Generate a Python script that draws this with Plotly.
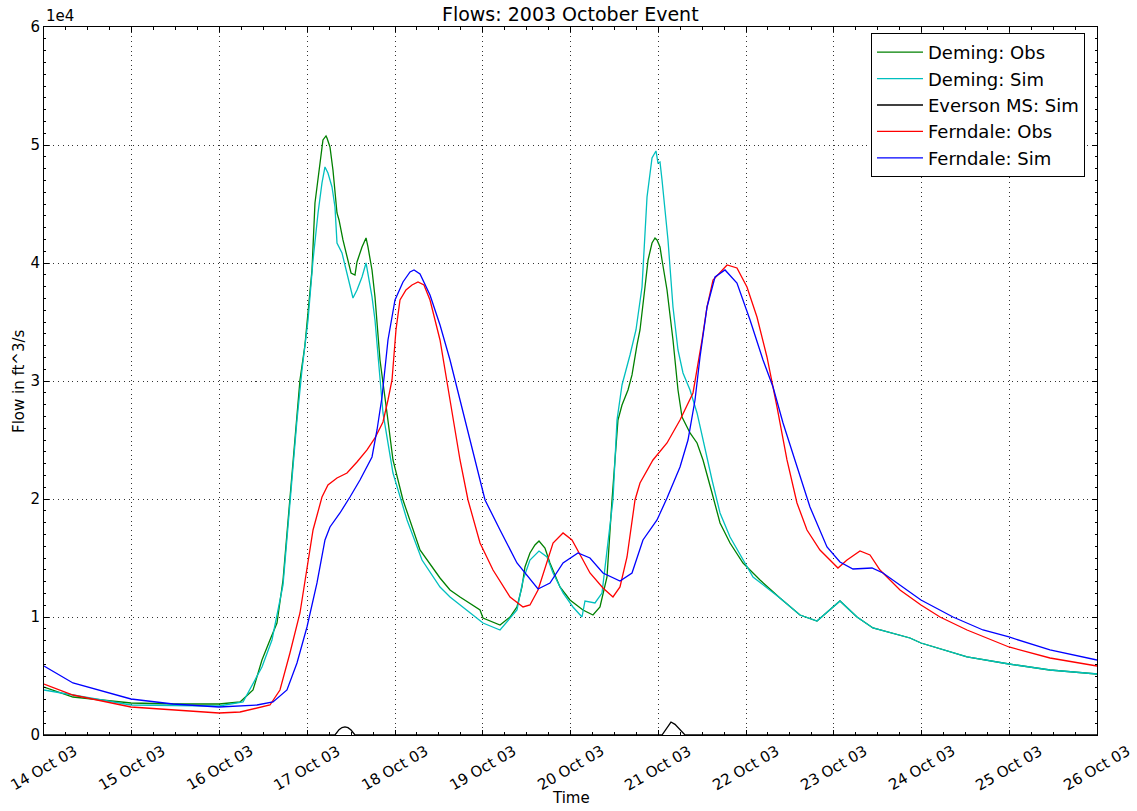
import pandas as pd
import plotly.graph_objects as go

# ---- data (time in days after 2003-10-14 00:00, flow in ft^3/s) ----
deming_obs_t = [0, 0.330, 0.991, 1.493, 1.994, 2.234, 2.382, 2.484, 2.575, 2.655, 2.724, 2.803, 2.883, 2.917,
                2.974, 3.054, 3.088, 3.123, 3.157, 3.179, 3.214, 3.225, 3.259, 3.293, 3.339, 3.362, 3.407, 3.453,
                3.499, 3.544, 3.567, 3.624, 3.670, 3.692, 3.738, 3.772, 3.795, 3.829, 3.909, 3.977, 4.091, 4.285,
                4.513, 4.627, 4.741, 4.969, 5.003, 5.197, 5.311, 5.390, 5.447, 5.481, 5.538, 5.595, 5.641, 5.709,
                5.766, 5.880, 5.994, 6.142, 6.256, 6.336, 6.416, 6.473, 6.541, 6.587, 6.655, 6.701, 6.758, 6.792,
                6.849, 6.884, 6.929, 6.963, 6.986, 7.020, 7.043, 7.100, 7.168, 7.225, 7.271, 7.362, 7.442, 7.510,
                7.613, 7.704, 7.818, 7.966, 8.160, 8.387, 8.615, 8.809, 9.071, 9.265, 9.447, 9.869, 9.994, 10.519,
                10.997, 11.464, 12.0]
deming_obs_q = [4068, 3221, 2712, 2627, 2627, 2797, 3814, 6356, 8051, 9492, 13136, 20170, 27290, 30086,
                33052, 39409, 45087, 47036, 48986, 50426, 50765, 50596, 49833, 47884, 44240, 43646, 41951, 40511,
                39155, 38985, 40087, 41358, 42121, 41358, 39409, 37121, 35171, 31781, 27290, 23306, 19916, 15679,
                13306, 12289, 11696, 10594, 9916, 9323, 10000, 10848, 12543, 14238, 15425, 16103, 16442, 15848,
                14577, 12543, 11441, 10594, 10170, 10848, 13391, 19916, 26696, 27968, 29239, 30510, 33052, 34324,
                37968, 40256, 41697, 42121, 41951, 41358, 40256, 37714, 33476, 29239, 26951, 25595, 24747, 23306,
                20510, 17967, 16272, 14577, 13136, 11611, 10170, 9662, 11357, 10000, 9068, 8221, 7797, 6611,
                6017, 5509, 5170]

deming_sim_t = [0, 0.991, 1.994, 2.268, 2.484, 2.598, 2.724, 2.803, 2.883, 2.940, 3.009, 3.066, 3.123, 3.168,
                3.202, 3.236, 3.282, 3.316, 3.339, 3.396, 3.453, 3.487, 3.521, 3.567, 3.624, 3.670, 3.692, 3.738,
                3.772, 3.863, 3.977, 4.137, 4.308, 4.513, 4.627, 5.003, 5.197, 5.390, 5.459, 5.538, 5.641, 5.732,
                5.801, 5.915, 6.028, 6.131, 6.165, 6.279, 6.359, 6.416, 6.484, 6.530, 6.587, 6.678, 6.746, 6.815,
                6.872, 6.929, 6.974, 6.997, 7.020, 7.043, 7.111, 7.168, 7.225, 7.282, 7.362, 7.442, 7.510, 7.613,
                7.704, 7.818, 8.080, 8.387, 8.615, 8.809, 9.071, 9.265, 9.447, 9.869, 9.994, 10.519, 10.997,
                11.464, 12.0]
deming_sim_q = [3814, 2543, 2458, 2797, 5763, 8051, 12713, 19916, 26696, 30934, 35171, 40256, 44240, 46782,
                48138, 47630, 46443, 44748, 41697, 40850, 39155, 37968, 37036, 37714, 38816, 40002, 39155, 37121,
                35171, 27290, 22204, 18221, 14831, 12543, 11696, 9492, 8899, 10594, 13136, 14831, 15594, 15086,
                13730, 12034, 10848, 10000, 11357, 11187, 12034, 15679, 19916, 26696, 29663, 32205, 34324, 37968,
                45596, 48901, 49494, 48477, 48562, 47036, 41951, 36273, 32629, 30679, 29239, 27290, 25001, 21611,
                18815, 16781, 13391, 11611, 10170, 9662, 11357, 10000, 9068, 8221, 7797, 6611, 6017,
                5509, 5170]

everson_sim_t = [0, 3.316, 3.362, 3.396, 3.430, 3.464, 3.499, 3.544, 7.043, 7.100, 7.145, 7.191, 7.248, 7.305, 12.0]
everson_sim_q = [0, 0, 450, 630, 680, 620, 420, 0, 0, 600, 1100, 900, 450, 0, 0]

ferndale_obs_t = [0, 0.330, 0.991, 1.493, 1.994, 2.234, 2.575, 2.689, 2.803, 2.917, 2.997, 3.066, 3.168, 3.236,
                  3.339, 3.453, 3.567, 3.681, 3.772, 3.863, 3.920, 3.966, 4.011, 4.057, 4.125, 4.194, 4.262, 4.330,
                  4.399, 4.513, 4.627, 4.741, 4.832, 4.969, 5.117, 5.311, 5.459, 5.538, 5.630, 5.732, 5.801, 5.915,
                  6.017, 6.142, 6.222, 6.370, 6.484, 6.564, 6.644, 6.735, 6.792, 6.940, 7.100, 7.248, 7.396, 7.499,
                  7.556, 7.624, 7.784, 7.897, 8.011, 8.125, 8.239, 8.353, 8.467, 8.581, 8.695, 8.843, 9.048, 9.151,
                  9.299, 9.413, 9.527, 9.755, 9.994, 10.211, 10.519, 10.997, 11.464, 12.0]
ferndale_obs_q = [4322, 3390, 2373, 2119, 1865, 1949, 2543, 3814, 6950, 10340, 13984, 17374, 20170, 21188,
                  21781, 22205, 23137, 24154, 25171, 26527, 28391, 30086, 34324, 36866, 37714, 38138, 38392, 38138,
                  36866, 33476, 28391, 23306, 19916, 16272, 13984, 11696, 10848, 11018, 12289, 14577, 16272, 17120,
                  16526, 14831, 13730, 12458, 11696, 12543, 15086, 19916, 21357, 23306, 24747, 26696, 28985, 33476,
                  36273, 38561, 39833, 39578, 37968, 35426, 32035, 27798, 23306, 19662, 17374, 15679, 14153, 14831,
                  15594, 15255, 13984, 12289, 11018, 10000, 8899, 7458, 6526, 5848]

ferndale_sim_t = [0, 0.330, 0.991, 1.470, 1.994, 2.427, 2.610, 2.769, 2.883, 2.997, 3.111, 3.202, 3.259, 3.373,
                  3.487, 3.601, 3.738, 3.795, 3.852, 3.920, 4.0, 4.091, 4.171, 4.217, 4.285, 4.399, 4.513, 4.627,
                  4.741, 4.855, 4.969, 5.026, 5.197, 5.390, 5.630, 5.766, 5.915, 6.085, 6.222, 6.370, 6.564, 6.701,
                  6.826, 6.986, 7.100, 7.248, 7.339, 7.419, 7.476, 7.556, 7.647, 7.761, 7.897, 8.046, 8.194, 8.308,
                  8.422, 8.581, 8.729, 8.923, 9.071, 9.219, 9.436, 9.561, 9.755, 9.994, 10.359, 10.701, 10.997,
                  11.464, 12.0]
ferndale_sim_q = [5848, 4407, 3051, 2627, 2373, 2543, 2797, 3814, 6102, 9153, 12882, 16526, 17628, 18815,
                  20170, 21611, 23561, 25849, 28646, 33476, 36866, 38392, 39239, 39409, 39070, 37290, 34748, 31781,
                  28391, 25001, 21781, 19916, 17374, 14577, 12373, 12882, 14577, 15425, 15001, 13730, 13052, 13730,
                  16526, 18221, 20085, 22713, 25001, 28391, 32035, 36273, 38816, 39409, 38307, 35171, 31781, 29493,
                  26442, 22713, 19323, 15933, 14662, 14069, 14153, 13730, 12713, 11441, 10000, 8899, 8306,
                  7204, 6356]

series_names = ["Deming: Obs", "Deming: Sim", "Everson MS: Sim", "Ferndale: Obs", "Ferndale: Sim"]
series_colors = ["#008000", "#00BFBF", "#000000", "#FF0000", "#0000FF"]
y_tick_vals = [0, 10000, 20000, 30000, 40000, 50000, 60000]
y_tick_text = ["0", "1", "2", "3", "4", "5", "6"]
x_tick_days = list(range(0, 13))

start = pd.Timestamp("2003-10-14")


def to_time(days):
    return start + pd.to_timedelta(pd.Series(days), unit="D")


series = [
    (deming_obs_t, deming_obs_q),
    (deming_sim_t, deming_sim_q),
    (everson_sim_t, everson_sim_q),
    (ferndale_obs_t, ferndale_obs_q),
    (ferndale_sim_t, ferndale_sim_q),
]

FONT = "DejaVu Sans"
fig = go.Figure()
for (t, q), name, color in zip(series, series_names, series_colors):
    fig.add_trace(go.Scatter(x=to_time(t), y=q, mode="lines", name=name,
                             line=dict(color=color, width=1.3)))

tick_dates = [start + pd.Timedelta(days=d) for d in x_tick_days]
annotations = [
    dict(text="Flows: 2003 October Event", xref="paper", yref="paper", x=0.5, y=1,
         xanchor="center", yanchor="middle", yshift=13, showarrow=False,
         font=dict(family=FONT, size=19)),
    dict(text="1e4", xref="paper", yref="paper", x=0, y=1, xanchor="left", yanchor="bottom",
         yshift=0, showarrow=False, font=dict(family=FONT, size=15)),
    dict(text="Time", xref="paper", yref="paper", x=0.5, y=0, xanchor="center", yanchor="middle",
         yshift=-63, showarrow=False, font=dict(family=FONT, size=15)),
    dict(text="Flow in ft^3/s", xref="paper", yref="paper", x=0, y=0.5, xanchor="center",
         yanchor="middle", xshift=-25, textangle=-90, showarrow=False, font=dict(family=FONT, size=15)),
]
for d in tick_dates:
    annotations.append(dict(text=d.strftime("%d %b %y"), xref="x", yref="paper", x=d, y=0,
                            xanchor="center", yanchor="top", yshift=-4, textangle=-30,
                            showarrow=False, font=dict(family=FONT, size=15)))

fig.update_layout(
    width=1137, height=811,
    margin=dict(l=44, r=40, t=27, b=76, autoexpand=False),
    paper_bgcolor="white", plot_bgcolor="white",
    font=dict(family=FONT, size=15, color="black"),
    showlegend=True,
    legend=dict(x=0.9886, y=0.9915, xanchor="right", yanchor="top",
                bordercolor="black", borderwidth=1, bgcolor="white",
                font=dict(family=FONT, size=18), tracegroupgap=0, itemwidth=46),
    annotations=annotations,
)

GRID_DASH = "1px,3.7px"
fig.update_xaxes(
    type="date",
    range=[start, start + pd.Timedelta(days=12)],
    tickvals=tick_dates, showticklabels=False,
    showgrid=True, gridcolor="#333333", griddash=GRID_DASH, gridwidth=1,
    showline=True, linecolor="black", linewidth=1, mirror="ticks",
    ticks="inside", ticklen=5, tickcolor="black",
    minor=dict(dtick=6 * 3600 * 1000, tick0=start, ticks="inside", ticklen=3, tickcolor="black",
               showgrid=False),
    zeroline=False, automargin=False,
)
fig.update_yaxes(
    range=[0, 60000],
    tickvals=y_tick_vals, ticktext=y_tick_text, tickfont=dict(family=FONT, size=15),
    showgrid=True, gridcolor="#333333", griddash=GRID_DASH, gridwidth=1,
    showline=True, linecolor="black", linewidth=1, mirror="ticks",
    ticks="inside", ticklen=5, tickcolor="black",
    minor=dict(dtick=1000, ticks="inside", ticklen=2, tickcolor="black", showgrid=False),
    zeroline=False, automargin=False,
)

fig.write_html("out.html", config={"displayModeBar": False},
               post_script="document.body.style.margin='0px';document.body.style.overflow='hidden';")
